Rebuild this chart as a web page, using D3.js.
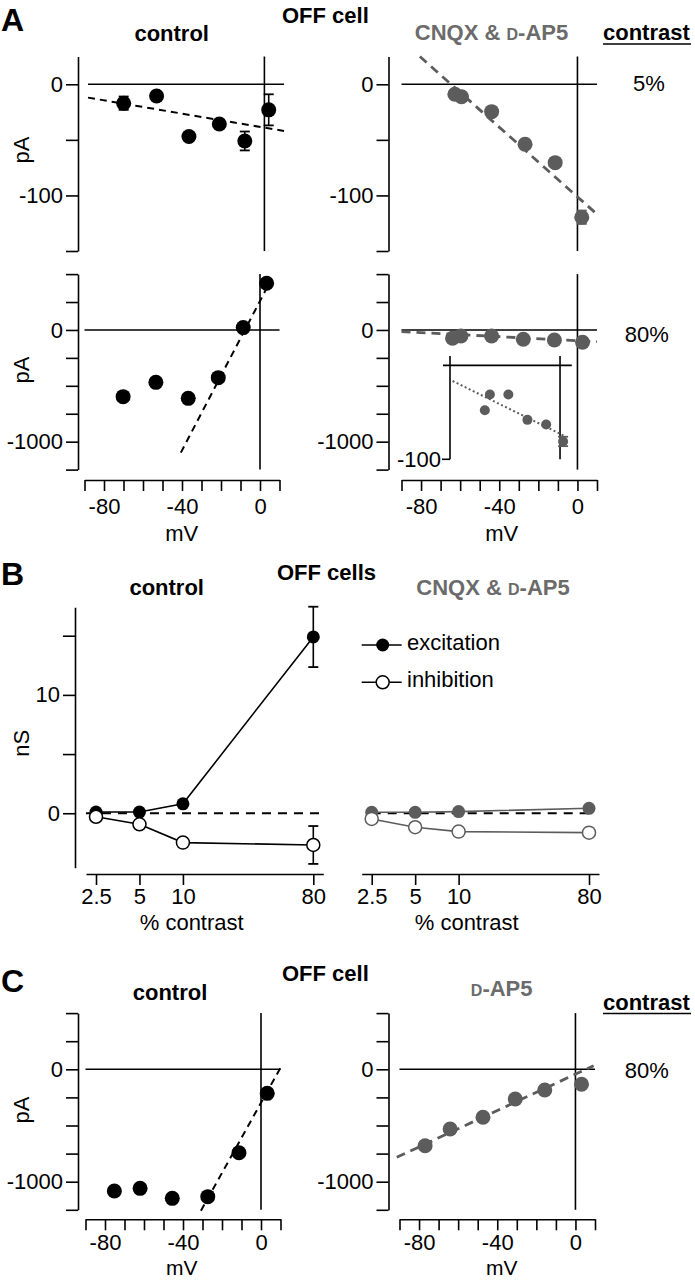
<!DOCTYPE html>
<html><head><meta charset="utf-8">
<script src="https://cdn.jsdelivr.net/npm/d3@7"></script>
<style>
body{margin:0;background:#fff}
svg{display:block}
text{font-family:"Liberation Sans",Arial,Helvetica,sans-serif}
</style>
</head><body>
<svg id="c" width="695" height="1280"></svg>
<script>
// ---------------- DATA ----------------
// Panel A, 5% contrast, control
const aCtl5V   = [-71.8, -55, -38.5, -23, -10, 2.2];
const aCtl5I   = [-17, -10.5, -47, -35.7, -51, -23];
const aCtl5Err = [6, 0, 0, 0, 8.5, 14];
const aCtl5FitV = [-90, 10];
const aCtl5FitI = [-12, -42];
// Panel A, 5% contrast, CNQX & D-AP5
const aDrug5V   = [-62.7, -59.3, -43.9, -26.8, -11.4, 2.2];
const aDrug5I   = [-9, -11.2, -24.6, -54, -70.5, -119.6];
const aDrug5Err = [0, 0, 0, 0, 0, 6];
const aDrug5FitV = [-80.6, 9.4];
const aDrug5FitI = [25, -116];
// Panel A, 80% contrast, control
const aCtl80V   = [-70.2, -53.4, -36.8, -21.4, -8.6, 3.4];
const aCtl80I   = [-597, -469, -612, -427, 21, 418];
const aCtl80Err = [0, 0, 0, 0, 0, 25];
const aCtl80FitV = [-40.6, 3.4];
const aCtl80FitI = [-1098, 373];
// Panel A, 80% contrast, CNQX & D-AP5 (main + inset)
const aDrug80V   = [-63.9, -59.6, -43.9, -27.7, -11.8, 2.6];
const aDrug80I   = [-74, -54, -54, -83, -90, -110];
const aDrug80FitV = [-90, 10];
const aDrug80FitI = [-15, -105];
const insetI     = [-47.7, -31, -31, -58, -63, -81];
const insetErr   = [0, 0, 0, 0, 0, 5];
const insetFitV  = [-91.3, 4.1];
const insetFitI  = [-16.6, -75.3];
// Panel B
const contrast   = [2.5, 5, 10, 80];
const excCtl     = [0.1, 0.1, 0.8, 14.9];
const excCtlErr  = [0, 0, 0, 2.55];
const inhCtl     = [-0.3, -0.93, -2.48, -2.68];
const inhCtlErr  = [0, 0, 0.35, 1.6];
const excDrug    = [0.08, 0.08, 0.14, 0.42];
const inhDrug    = [-0.48, -1.18, -1.55, -1.64];
// Panel C
const cCtlV = [-75.2, -62, -45.5, -27.3, -11.3, 3.2];
const cCtlI = [-1083, -1059, -1148, -1133, -742, -214];
const cCtlFitV = [-30.8, 10.3];
const cCtlFitI = [-1258, 23];
const cApV = [-76.9, -64.1, -47.3, -30.8, -15.7, 3.1];
const cApI = [-680, -531, -427, -264, -184, -133];
const cApFitV = [-91.4, 9.3];
const cApFitI = [-783, 32];
// Tick values / labels
const mvTicks = d3.range(-90, 11, 10);
const mvLabels = [-80, -40, 0];
const paTicksSmall = [0, -50, -100, -150];
const paLabelsSmall = [0, -100];
const paTicksBig = [500, 250, 0, -250, -500, -750, -1000, -1250];
const paLabelsBig = [0, -1000];
const nsTicks = [15, 10, 5, 0];
const nsLabels = [10, 0];

// ---------------- DRAW ----------------
const svg = d3.select('#c');
const BLACK = '#000', GRAY = '#5c5c5c', GRAYTXT = '#6b6b6b';
const FONT = '"Liberation Sans",Arial,Helvetica,sans-serif';
const FS = 22, SW = 1.6;

function txt(x, y, s, o = {}) {
  const t = svg.append('text').attr('x', x).attr('y', y)
    .attr('font-size', o.size || FS)
    .attr('font-weight', o.bold ? 'bold' : 'normal')
    .attr('fill', o.fill || BLACK)
    .attr('text-anchor', o.anchor || 'start')
    .text(s);
  if (o.rotate) t.attr('transform', `rotate(-90,${x},${y})`);
  return t;
}
function drugTitle(cx, y, prefix) {
  const t = svg.append('text').attr('x', cx).attr('y', y)
    .attr('font-size', FS).attr('font-weight', 'bold').attr('fill', GRAYTXT)
    .attr('text-anchor', 'middle');
  if (prefix) t.append('tspan').text(prefix);
  t.append('tspan').attr('font-size', 16).text('D');
  t.append('tspan').text('-AP5');
}
function styleAxis(g) {
  g.attr('font-family', FONT).attr('font-size', FS);
  g.selectAll('path,line').attr('stroke', BLACK).attr('stroke-width', SW);
  g.selectAll('text').attr('fill', BLACK);
}
function yAxis(x, scale, ticks, labels) {
  const ax = d3.axisLeft(scale).tickValues(ticks).tickSize(12).tickSizeOuter(0).tickPadding(3)
    .tickFormat(d => labels.includes(d) ? String(d) : '');
  styleAxis(svg.append('g').attr('transform', `translate(${x},0)`).call(ax));
}
function xAxis(y, scale, ticks, fmt, pad) {
  const ax = d3.axisBottom(scale).tickValues(ticks).tickSize(11).tickSizeOuter(0).tickPadding(pad)
    .tickFormat(fmt);
  styleAxis(svg.append('g').attr('transform', `translate(0,${y})`).call(ax));
}
function line(x1, y1, x2, y2, color, w, dash) {
  const l = svg.append('line').attr('x1', x1).attr('y1', y1).attr('x2', x2).attr('y2', y2)
    .attr('stroke', color).attr('stroke-width', w);
  if (dash) l.attr('stroke-dasharray', dash);
  return l;
}
function errBars(xs, ys, es, x, y, color) {
  xs.forEach((v, i) => {
    if (!es[i]) return;
    const cx = x(v), y1 = y(ys[i] + es[i]), y2 = y(ys[i] - es[i]);
    line(cx, y1, cx, y2, color, 1.6);
    line(cx - 5, y1, cx + 5, y1, color, 1.8);
    line(cx - 5, y2, cx + 5, y2, color, 1.8);
  });
}
function dots(xs, ys, x, y, r, fill, stroke) {
  svg.append('g').selectAll('circle').data(xs).join('circle')
    .attr('cx', d => x(d)).attr('cy', (d, i) => y(ys[i])).attr('r', r)
    .attr('fill', fill).attr('stroke', stroke || 'none').attr('stroke-width', stroke ? 1.5 : 0);
}
function ivPanel(x, y, V, I, err, fitV, fitI, color, dash, dashW) {
  line(x.range()[0], y(0), x.range()[1], y(0), BLACK, SW);
  line(x(0), y.range()[0], x(0), y.range()[1], BLACK, SW);
  line(x(fitV[0]), y(fitI[0]), x(fitV[1]), y(fitI[1]), color, dashW, dash);
  if (err) errBars(V, I, err, x, y, color);
  dots(V, I, x, y, 7.5, color);
}

// ===== Panel A =====
const xATL = d3.scaleLinear().domain([-90, 10]).range([88, 284]);
const xAL  = d3.scaleLinear().domain([-90, 10]).range([84.5, 279.5]);
const xAR  = d3.scaleLinear().domain([-90, 10]).range([401.5, 597]);
const yATop = d3.scaleLinear().domain([-150, 25]).range([251, 56.5]);
const yABot = d3.scaleLinear().domain([-1250, 500]).range([469.6, 274.1]);

txt(1, 31, 'A', {bold: true, size: 32});
txt(282, 23, 'OFF cell', {bold: true});
txt(171.7, 41, 'control', {bold: true, anchor: 'middle'});
drugTitle(491.5, 40, 'CNQX & ');
txt(603, 40, 'contrast', {bold: true});
line(603, 44, 691, 44, BLACK, 1.6);
txt(649, 91, '5%', {anchor: 'middle'});
txt(646.7, 342, '80%', {anchor: 'middle'});
txt(29, 150, 'pA', {anchor: 'middle', rotate: true});
txt(29, 370, 'pA', {anchor: 'middle', rotate: true});

yAxis(78, yATop, paTicksSmall, paLabelsSmall);
yAxis(388.5, yATop, paTicksSmall, paLabelsSmall);
yAxis(78, yABot, paTicksBig, paLabelsBig);
yAxis(388.5, yABot, paTicksBig, paLabelsBig);
xAxis(480, xAL, mvTicks, d => mvLabels.includes(d) ? String(d) : '', 7);
xAxis(480, xAR, mvTicks, d => mvLabels.includes(d) ? String(d) : '', 7);
txt(181.7, 541, 'mV', {anchor: 'middle'});
txt(501.7, 541, 'mV', {anchor: 'middle'});

ivPanel(xATL, yATop, aCtl5V, aCtl5I, aCtl5Err, aCtl5FitV, aCtl5FitI, BLACK, '7,5', 2);
ivPanel(xAR, yATop, aDrug5V, aDrug5I, aDrug5Err, aDrug5FitV, aDrug5FitI, GRAY, '9,6', 2.8);
ivPanel(xAL, yABot, aCtl80V, aCtl80I, aCtl80Err, aCtl80FitV, aCtl80FitI, BLACK, '7,5', 2);
ivPanel(xAR, yABot, aDrug80V, aDrug80I, null, aDrug80FitV, aDrug80FitI, GRAY, '9,6', 2.8);

// Inset
const xIn = d3.scaleLinear().domain([-93.5, 10]).range([450, 571.8]);
const yIn = d3.scaleLinear().domain([-100, 10]).range([459.3, 356]);
line(xIn.range()[0] - 7, yIn(0), xIn.range()[1], yIn(0), BLACK, SW);
line(xIn(-93.5), yIn.range()[0], xIn(-93.5), yIn.range()[1], BLACK, SW);
line(xIn(0), yIn.range()[0], xIn(0), yIn.range()[1], BLACK, SW);
line(xIn(-93.5) - 8, yIn(-100), xIn(-93.5), yIn(-100), BLACK, SW);
txt(xIn(-93.5) - 9, yIn(-100) + 8, '-100', {anchor: 'end'});
line(xIn(insetFitV[0]), yIn(insetFitI[0]), xIn(insetFitV[1]), yIn(insetFitI[1]), GRAY, 2, '2,2.5');
errBars(aDrug80V, insetI, insetErr, xIn, yIn, GRAY);
dots(aDrug80V, insetI, xIn, yIn, 5, GRAY);

// ===== Panel B =====
const xB0 = d3.scaleLog().domain([2.5, 80]).range([96, 313.3]);
const xBL = d3.scaleLog().domain([xB0.invert(86), xB0.invert(323.3)]).range([86, 323.3]);
const xBR = d3.scaleLog().domain(xBL.domain()).range([361.7, 599]);
const yB = d3.scaleLinear().domain([-4.6, 17.4]).range([867.7, 607.3]);

txt(1, 585, 'B', {bold: true, size: 32});
txt(277, 579.5, 'OFF cells', {bold: true});
txt(166.7, 594.5, 'control', {bold: true, anchor: 'middle'});
drugTitle(493, 594.5, 'CNQX & ');
txt(29, 743.3, 'nS', {anchor: 'middle', rotate: true});

yAxis(75, yB, nsTicks, nsLabels);
xAxis(874, xBL, contrast, d => String(d), 3);
xAxis(874, xBR, contrast, d => String(d), 3);
txt(191.7, 929.5, '% contrast', {anchor: 'middle'});
txt(466.7, 929.5, '% contrast', {anchor: 'middle'});

line(xBL.range()[0], yB(0), xBL.range()[1], yB(0), BLACK, 1.8, '9,7');
line(xBR(2.5), yB(0), xBR(80) + 5, yB(0), BLACK, 1.8, '9,7');

function series(x, vals, color, fill, err) {
  const ln = d3.line().x((d, i) => x(contrast[i])).y(d => yB(d));
  svg.append('path').attr('d', ln(vals)).attr('fill', 'none').attr('stroke', color).attr('stroke-width', 1.6);
  if (err) errBars(contrast, vals, err, x, yB, color);
  dots(contrast, vals, x, yB, 6.5, fill, fill === '#fff' ? color : null);
}
series(xBL, excCtl, BLACK, BLACK, excCtlErr);
series(xBL, inhCtl, BLACK, '#fff', inhCtlErr);
series(xBR, excDrug, GRAY, GRAY, null);
series(xBR, inhDrug, GRAY, '#fff', null);

// legend
line(361.7, 645, 401.7, 645, BLACK, 1.6);
svg.append('circle').attr('cx', 382.7).attr('cy', 645).attr('r', 6.5).attr('fill', BLACK);
txt(407, 650, 'excitation');
line(361.7, 682.3, 401.7, 682.3, BLACK, 1.6);
svg.append('circle').attr('cx', 382.7).attr('cy', 682.3).attr('r', 6.5).attr('fill', '#fff').attr('stroke', BLACK).attr('stroke-width', 1.5);
txt(407, 687, 'inhibition');

// ===== Panel C =====
const xCL = d3.scaleLinear().domain([-90, 10]).range([85.5, 280.5]);
const xCR = d3.scaleLinear().domain([-90, 10]).range([399.5, 595]);
const yC = d3.scaleLinear().domain([-1250, 500]).range([1209.8, 1013.1]);

txt(1, 992, 'C', {bold: true, size: 32});
txt(282, 981, 'OFF cell', {bold: true});
txt(170, 999.5, 'control', {bold: true, anchor: 'middle'});
drugTitle(501.7, 996, '');
txt(603, 1009.5, 'contrast', {bold: true});
line(603, 1013.5, 691, 1013.5, BLACK, 1.6);
txt(646.7, 1078, '80%', {anchor: 'middle'});
txt(29, 1110, 'pA', {anchor: 'middle', rotate: true});

yAxis(78, yC, paTicksBig, paLabelsBig);
yAxis(388.5, yC, paTicksBig, paLabelsBig);
xAxis(1219.3, xCL, mvTicks, d => mvLabels.includes(d) ? String(d) : '', 4);
xAxis(1219.3, xCR, mvTicks, d => mvLabels.includes(d) ? String(d) : '', 4);
txt(181.7, 1275.2, 'mV', {anchor: 'middle', size: 21});
txt(501.7, 1275.2, 'mV', {anchor: 'middle', size: 21});

ivPanel(xCL, yC, cCtlV, cCtlI, null, cCtlFitV, cCtlFitI, BLACK, '7,5', 2);
ivPanel(xCR, yC, cApV, cApI, null, cApFitV, cApFitI, GRAY, '9,6', 2.8);
</script>
</body></html>
